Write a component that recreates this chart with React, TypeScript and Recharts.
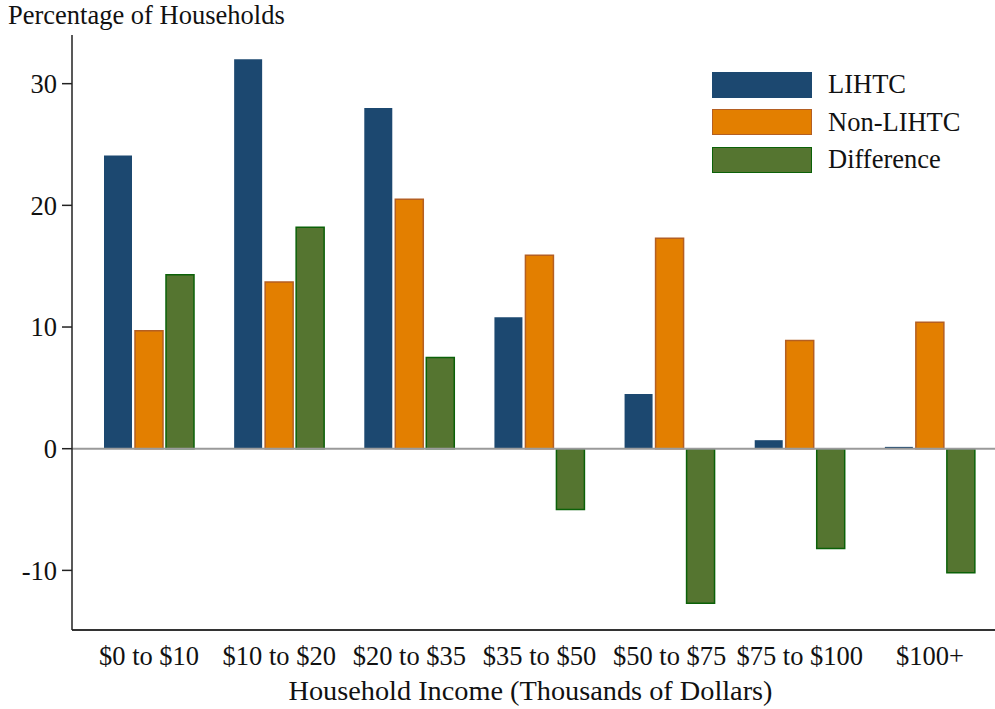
import { BarChart, Bar, XAxis, YAxis, ReferenceLine } from 'recharts';

const categories = ['$0 to $10', '$10 to $20', '$20 to $35', '$35 to $50', '$50 to $75', '$75 to $100', '$100+'];
const lihtc = [24.1, 32.0, 28.0, 10.8, 4.5, 0.7, 0.15];
const nonLihtc = [9.7, 13.7, 20.5, 15.9, 17.3, 8.9, 10.4];
const difference = [14.3, 18.2, 7.5, -5.0, -12.7, -8.2, -10.2];
const yTicks = [-10, 0, 10, 20, 30];

const series = [
  { key: 'lihtc', name: 'LIHTC', fill: '#1c4870', stroke: '#1c4870', width: 0 },
  { key: 'nonLihtc', name: 'Non-LIHTC', fill: '#e37f00', stroke: '#b45f22', width: 1.5 },
  { key: 'difference', name: 'Difference', fill: '#557530', stroke: '#0b6108', width: 1.5 },
];

const data = categories.map((name, i) => ({
  name,
  lihtc: lihtc[i],
  nonLihtc: nonLihtc[i],
  difference: difference[i],
}));

const font = '"Liberation Serif", "Times New Roman", serif';
const fs = 26.5;

export default function App() {
  return (
    <div style={{ position: 'absolute', left: 0, top: 0, width: 995, height: 709, background: '#fff' }}>
      <BarChart
        width={995}
        height={709}
        data={data}
        margin={{ top: 35, right: 0, bottom: 34, left: 0 }}
        barSize={28}
        barGap={3}
      >
        <XAxis
          dataKey="name"
          padding={{ left: 12, right: 0 }}
          axisLine={{ stroke: '#333', strokeWidth: 2 }}
          tickLine={false}
          tickMargin={10}
          height={45}
          interval={0}
          tick={{ fill: '#111', fontSize: fs, fontFamily: font }}
          label={{ value: 'Household Income (Thousands of Dollars)', position: 'insideBottom', offset: -25, dx: -3, fill: '#111', fontSize: 28.3, fontFamily: font }}
        />
        <YAxis
          width={72}
          domain={[-14.9, 34]}
          ticks={yTicks}
          allowDataOverflow
          axisLine={{ stroke: '#222', strokeWidth: 1.5 }}
          tickLine={{ stroke: '#222', strokeWidth: 1.5 }}
          tickSize={10}
          tickMargin={5}
          tick={{ fill: '#111', fontSize: fs, fontFamily: font }}
          label={{
            content: () => (
              <text x={8} y={24} fill="#111" fontSize={fs} fontFamily={font}>
                Percentage of Households
              </text>
            ),
          }}
        />
        <ReferenceLine y={0} stroke="#9a9a9a" strokeWidth={2} />
        {series.map((s) => (
          <Bar
            key={s.key}
            dataKey={s.key}
            name={s.name}
            fill={s.fill}
            stroke={s.stroke}
            strokeWidth={s.width}
            isAnimationActive={false}
          />
        ))}
      </BarChart>
      <div style={{ position: 'absolute', left: 712, top: 66, fontFamily: font, fontSize: fs, color: '#111' }}>
        {series.map((s) => (
          <div key={s.key} style={{ display: 'flex', alignItems: 'center', height: 37.5 }}>
            <div
              style={{
                boxSizing: 'border-box',
                width: 100,
                height: 26,
                background: s.fill,
                border: `1.5px solid ${s.stroke}`,
                marginRight: 16,
              }}
            />
            <span>{s.name}</span>
          </div>
        ))}
      </div>
    </div>
  );
}
